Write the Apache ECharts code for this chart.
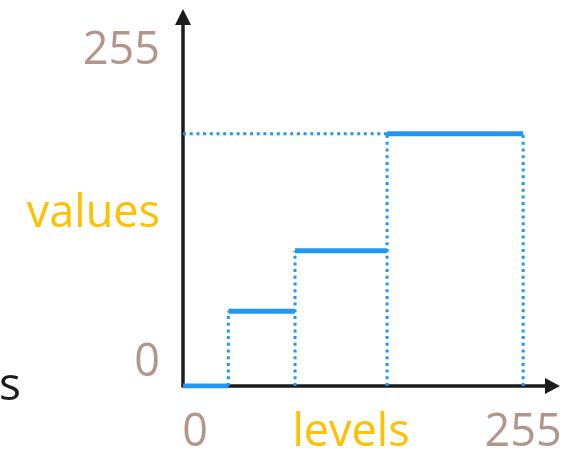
<!DOCTYPE html>
<html>
<head>
<meta charset="utf-8">
<script src="https://cdn.jsdelivr.net/npm/echarts@6/dist/echarts.min.js"></script>
<style>
html,body{margin:0;padding:0;background:#fff;}
#chart{width:574px;height:451px;}
</style>
</head>
<body>
<div id="chart"></div>
<script>
// ---- data ----
var levelEdges = [0, 34, 84, 153, 255];      // bin boundaries on the levels axis
var stepValues = [0, 57, 103, 192];           // output value for each bin
var xTickValues = [0, 126, 255];
var xTickLabels = ['0', 'levels', '255'];
var yTickValues = [0, 131, 255];
var yTickLabels = ['0', 'values', '255'];
var xMax = 277, yMax = 281;

var BLUE = '#2196F3', BROWN = '#B3968B', GOLD = '#FFC000', AXIS = '#1c1c1c';
var FONT = '"Open Sans", "Noto Sans", sans-serif';

function labelFmt(values, labels, zeroStyle) {
  return function (v) {
    var i = values.indexOf(v);
    if (i < 0) return '';
    var t = labels[i];
    if (isNaN(Number(t))) return '{w|' + t + '}';
    return (Number(t) === 0 ? '{' + zeroStyle + '|' : '{n|') + t + '}';
  };
}
var richBase = {
  n: {color: BROWN, fontSize: 45, fontFamily: FONT},
  w: {color: GOLD, fontSize: 45, fontFamily: FONT}
};

var seriesList = [];
// dotted guides: vertical lines at each boundary up to the next step (last one up to last step)
for (var k = 1; k < levelEdges.length; k++) {
  var guideTop = stepValues[Math.min(k, stepValues.length - 1)];
  seriesList.push({
    type: 'line', silent: true, symbol: 'none', z: 3,
    lineStyle: {color: BLUE, width: 3, type: [3, 3.7]},
    data: [[levelEdges[k], 0], [levelEdges[k], guideTop]]
  });
}
// dotted horizontal from value axis to top step
var lastStep = stepValues[stepValues.length - 1];
seriesList.push({
  type: 'line', silent: true, symbol: 'none', z: 3,
  lineStyle: {color: BLUE, width: 3, type: [3, 3.7]},
  data: [[0, lastStep], [levelEdges[levelEdges.length - 2], lastStep]]
});
// thick step segments
stepValues.forEach(function (v, i) {
  seriesList.push({
    type: 'line', silent: true, symbol: 'none', z: 5,
    lineStyle: {color: BLUE, width: 5, cap: 'butt'},
    data: [[levelEdges[i], v], [levelEdges[i + 1], v]]
  });
});

var chart = echarts.init(document.getElementById('chart'), null, {renderer: 'canvas'});
chart.setOption({
  animation: false,
  backgroundColor: '#ffffff',
  grid: {left: 183, right: 21.5, top: 17, bottom: 65, containLabel: false, outerBoundsMode: 'none'},
  xAxis: {
    type: 'value', min: 0, max: xMax,
    splitLine: {show: false},
    axisTick: {show: false},
    axisLine: {show: true, onZero: false, symbol: ['none', 'triangle'], symbolSize: [16, 15],
      lineStyle: {color: AXIS, width: 3.5}},
    axisLabel: {
      customValues: xTickValues, margin: 25, hideOverlap: false,
      formatter: labelFmt(xTickValues, xTickLabels, 'zx'),
      rich: Object.assign({zx: {color: BROWN, fontSize: 45, fontFamily: FONT, padding: [0, 0, 0, 24]}}, richBase)
    }
  },
  yAxis: {
    type: 'value', min: 0, max: yMax,
    splitLine: {show: false},
    axisTick: {show: false},
    axisLine: {show: true, onZero: false, symbol: ['none', 'triangle'], symbolSize: [16, 16],
      lineStyle: {color: AXIS, width: 3.5}},
    axisLabel: {
      customValues: yTickValues, margin: 23, hideOverlap: false,
      formatter: labelFmt(yTickValues, yTickLabels, 'zy'),
      rich: Object.assign({zy: {color: BROWN, fontSize: 45, fontFamily: FONT, padding: [0, 0, 46, 0]}}, richBase)
    }
  },
  graphic: [{
    type: 'text', left: -1, top: 364, silent: true,
    style: {text: 's', fill: '#1c1c1c', fontSize: 46, fontFamily: FONT}
  }],
  series: seriesList
});
</script>
</body>
</html>
